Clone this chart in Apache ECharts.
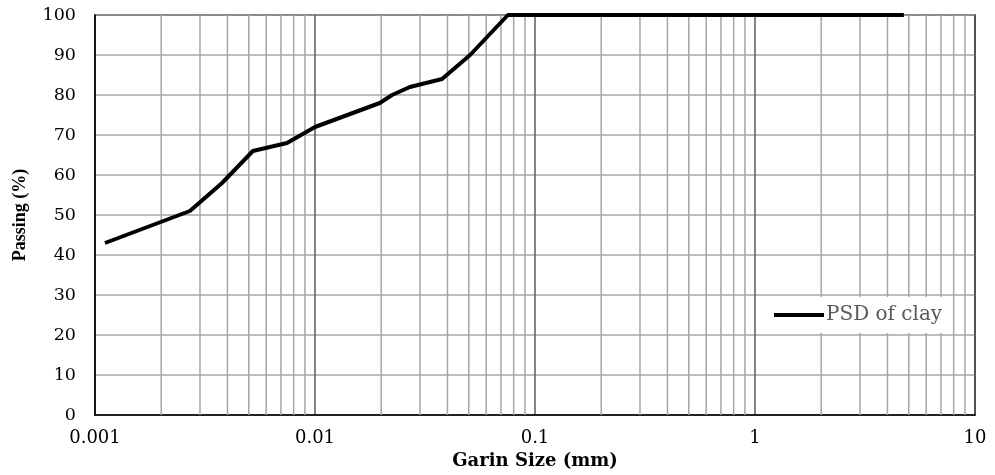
<!DOCTYPE html>
<html>
<head>
<meta charset="utf-8">
<script src="https://cdn.jsdelivr.net/npm/echarts@6/dist/echarts.min.js"></script>
<style>
  html, body { margin: 0; padding: 0; background: #fff; }
  #chart { width: 995px; height: 475px; }
</style>
</head>
<body>
<div id="chart"></div>
<script>
// Particle size distribution of the clay sample
const grainSize = [0.00111, 0.0027, 0.00378, 0.00522, 0.00746, 0.01, 0.0197, 0.0224, 0.027, 0.0378, 0.0507, 0.0753, 4.75];
const passing   = [43, 51, 58, 66, 68, 72, 78, 80, 82, 84, 90, 100, 100];
const seriesName = 'PSD of clay';

// Intermediate log grid lines: 2..9 within each decade
const decades = [0.001, 0.01, 0.1, 1];
const minorMultipliers = [2, 3, 4, 5, 6, 7, 8, 9];
const yRange = [0, 100];

// Each minor grid line is a vertical segment; '-' breaks the path between them
const minorGridData = [];
decades.forEach(d => minorMultipliers.forEach(m => {
  const x = +(d * m).toPrecision(6);
  minorGridData.push([x, yRange[0]], [x, yRange[1]], [x, '-']);
}));

const serif = '"DejaVu Serif", "Liberation Serif", serif';
const serifNarrow = '"Liberation Serif", "DejaVu Serif", serif';

const chart = echarts.init(document.getElementById('chart'), null, { renderer: 'canvas' });
chart.setOption({
  animation: false,
  backgroundColor: '#fff',
  grid: {
    left: 95, right: 20, top: 15, bottom: 60,
    show: true, borderColor: '#000', borderWidth: 1.5, backgroundColor: 'transparent'
  },
  legend: {
    left: 757, top: 297,
    padding: [8, 3, 8, 17],
    backgroundColor: '#fff',
    itemWidth: 50, itemHeight: 4,
    icon: 'rect',
    itemGap: 0,
    textStyle: { fontFamily: serif, fontSize: 20, color: '#595959', padding: [0, 0, 0, -3] },
    data: [{ name: seriesName, itemStyle: { color: '#000' } }]
  },
  xAxis: {
    type: 'log', logBase: 10, min: 0.001, max: 10,
    name: 'Garin Size (mm)', nameLocation: 'middle', nameGap: 29,
    nameTextStyle: { fontFamily: serif, fontSize: 18, fontWeight: 'bold', color: '#000' },
    axisLine: { show: true, lineStyle: { color: '#000', width: 1.5 } },
    axisTick: { show: false },
    axisLabel: { fontFamily: serif, fontSize: 18, color: '#000', margin: 14 },
    splitLine: { show: true, lineStyle: { color: '#5a5a5a', width: 1.5 } }
  },
  yAxis: {
    type: 'value', min: 0, max: 100, interval: 10,
    name: 'Passing (%)', nameLocation: 'middle', nameGap: 66,
    nameTextStyle: { fontFamily: serifNarrow, fontSize: 18, fontWeight: 'bold', color: '#000' },
    axisLine: { show: true, lineStyle: { color: '#000', width: 1.5 } },
    axisTick: { show: false },
    axisLabel: { fontFamily: serif, fontSize: 17.5, color: '#000', margin: 19 },
    splitLine: { show: true, lineStyle: { color: '#a6a6a6', width: 1.5 } }
  },
  series: [
    {
      name: 'minor-grid',
      type: 'line',
      z: 1,
      silent: true,
      data: minorGridData,
      showSymbol: false,
      symbol: 'none',
      connectNulls: false,
      lineStyle: { color: '#a6a6a6', width: 1.5 },
      emphasis: { disabled: true },
      tooltip: { show: false }
    },
    {
      name: seriesName,
      type: 'line',
      z: 3,
      data: grainSize.map((g, i) => [g, passing[i]]),
      showSymbol: false,
      symbol: 'none',
      lineStyle: { color: '#000', width: 4 },
      itemStyle: { color: '#000' },
      clip: false
    }
  ]
});
</script>
</body>
</html>
